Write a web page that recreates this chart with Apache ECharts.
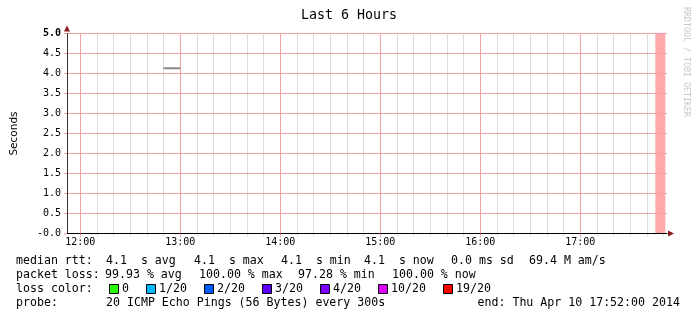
<!DOCTYPE html>
<html><head><meta charset="utf-8">
<script src="https://cdn.jsdelivr.net/npm/echarts@6/dist/echarts.min.js"></script>
<style>html,body{margin:0;padding:0;background:#fff}#c{width:697px;height:321px}</style>
</head><body><div id="c"></div>
<script>
// ---- data ----
const titleText = 'Last 6 Hours';
const yTitle = 'Seconds';
const xStart = 712, xEnd = 1072; // minutes since midnight (11:52 .. 17:52)
const hourTicks = [720, 780, 840, 900, 960, 1020];
const hourLabels = ['12:00', '13:00', '14:00', '15:00', '16:00', '17:00'];
const medianTimes = [770, 780];
const medianValues = [4.13, 4.13];
const lossTimes = [1065, 1071];
const lossValues = [5, 5];
const statsRow1 = ['median rtt:', '4.1  s avg', '4.1  s max', '4.1  s min', '4.1  s now', '0.0 ms sd', '69.4 M am/s'];
const statsRow2 = ['packet loss:', '99.93 % avg', '100.00 % max', '97.28 % min', '100.00 % now'];
const lossTitle = 'loss color:';
const lossLabels = ['0', '1/20', '2/20', '3/20', '4/20', '10/20', '19/20'];
const lossColors = ['#26ff00', '#00b8ff', '#0059ff', '#5e00ff', '#7e00ff', '#dd00ff', '#ff0000'];
const probeTitle = 'probe:';
const probeText = '20 ICMP Echo Pings (56 Bytes) every 300s';
const endText = 'end: Thu Apr 10 17:52:00 2014';
const watermark = 'RRDTOOL / TOBI OETIKER';

// ---- layout ----
const minorTicks = [];
for (let m = Math.ceil(xStart / 10) * 10; m <= xEnd; m += 10) {
  if (m % 60 !== 0) minorTicks.push(m);
}
const MONO = '"DejaVu Sans Mono", monospace';
const legendFont = '11.6px ' + MONO;
const row1X = [16, 106, 194, 281, 364, 451, 529];
const row2X = [16, 105, 199, 298, 392];
const rowY = [261, 275, 289, 303];

const graphics = [];
graphics.push({type: 'text', x: 349, y: 16, style: {text: titleText, font: '13.3px ' + MONO, fill: '#000', align: 'center', verticalAlign: 'middle'}});
graphics.push({type: 'text', x: 686, y: 62, rotation: -Math.PI / 2, style: {text: watermark, font: '8.3px ' + MONO, fill: '#c8c8c8', align: 'center', verticalAlign: 'middle'}});
statsRow1.forEach((t, i) => graphics.push({type: 'text', x: row1X[i], y: rowY[0], style: {text: t, font: legendFont, fill: '#000', verticalAlign: 'middle'}}));
statsRow2.forEach((t, i) => graphics.push({type: 'text', x: row2X[i], y: rowY[1], style: {text: t, font: legendFont, fill: '#000', verticalAlign: 'middle'}}));
graphics.push({type: 'text', x: 16, y: rowY[2], style: {text: lossTitle, font: legendFont, fill: '#000', verticalAlign: 'middle'}});
let bx = 109;
lossLabels.forEach((t, i) => {
  graphics.push({type: 'rect', shape: {x: bx + 0.5, y: rowY[2] - 4.5, width: 9, height: 9}, style: {fill: lossColors[i], stroke: '#000', lineWidth: 1}});
  graphics.push({type: 'text', x: bx + 13, y: rowY[2], style: {text: t, font: legendFont, fill: '#000', verticalAlign: 'middle'}});
  bx = bx + 13 + t.length * 7 + 17;
});
graphics.push({type: 'text', x: 16, y: rowY[3], style: {text: probeTitle, font: legendFont, fill: '#000', verticalAlign: 'middle'}});
graphics.push({type: 'text', x: 106, y: rowY[3], style: {text: probeText, font: legendFont, fill: '#000', verticalAlign: 'middle'}});
graphics.push({type: 'text', x: 477.5, y: rowY[3], style: {text: endText, font: legendFont, fill: '#000', verticalAlign: 'middle'}});

const PINK = '#f0a4a4';
const GREY = '#dcdcdc';
const ARROW = '#8b1a1a';
const plotBox = {left: 67, top: 33.5, width: 600, height: 200, containLabel: false, outerBoundsMode: 'none'};

const chart = echarts.init(document.getElementById('c'), null, {renderer: 'canvas'});
chart.setOption({
  animation: false,
  backgroundColor: '#fff',
  grid: [Object.assign({}, plotBox), Object.assign({}, plotBox)],
  xAxis: [
    {
      gridIndex: 0, type: 'value', min: xStart, max: xEnd, position: 'bottom', z: 4,
      axisLine: {show: true, onZero: false, lineStyle: {color: '#000', width: 1}},
      axisTick: {show: true, customValues: hourTicks, length: 4, lineStyle: {color: PINK}},
      axisLabel: {show: true, customValues: hourTicks, margin: 4,
        formatter: v => hourLabels[hourTicks.indexOf(Math.round(v))] || '',
        fontFamily: MONO, fontSize: 10, color: '#000'},
      splitLine: {show: true, lineStyle: {color: PINK, width: 1}}
    },
    {
      gridIndex: 1, type: 'value', min: xStart, max: xEnd, position: 'bottom', z: 1,
      axisLine: {show: false, onZero: false},
      axisTick: {show: true, customValues: minorTicks, length: 3, lineStyle: {color: GREY}},
      axisLabel: {show: false, customValues: minorTicks},
      splitLine: {show: true, lineStyle: {color: GREY, width: 1}}
    },
    {
      gridIndex: 1, type: 'value', min: xStart, max: xEnd, position: 'top', z: 2,
      axisLine: {show: false}, axisTick: {show: false}, axisLabel: {show: false}, splitLine: {show: false}
    }
  ],
  yAxis: [
    {
      gridIndex: 0, type: 'value', min: 0, max: 5, interval: 0.5, z: 4,
      name: yTitle, nameLocation: 'middle', nameRotate: 90, nameGap: 47,
      nameTextStyle: {fontFamily: '"DejaVu Sans", sans-serif', fontSize: 10.5, color: '#000'},
      axisLine: {show: true, onZero: false, lineStyle: {color: '#333', width: 1}},
      axisTick: {show: true, length: 3, lineStyle: {color: PINK}},
      axisLabel: {show: true, margin: 6, fontFamily: MONO, fontSize: 10, color: '#000',
        formatter: v => v === 0 ? '-0.0' : (v === 5 ? '{b|5.0}' : v.toFixed(1)),
        rich: {b: {fontFamily: MONO, fontSize: 10, fontWeight: 'bold', color: '#000'}}},
      splitLine: {show: true, lineStyle: {color: PINK, width: 1}}
    },
    {
      gridIndex: 1, type: 'value', min: 0, max: 5, interval: 0.5, position: 'left', z: 2,
      axisLine: {show: true, onZero: false, symbol: ['none', 'triangle'], symbolSize: [6, 6], symbolOffset: [0, 5], lineStyle: {color: ARROW, width: 0}},
      axisTick: {show: false}, axisLabel: {show: false}, splitLine: {show: false}
    }
  ],
  series: [
    {
      type: 'line', xAxisIndex: 0, yAxisIndex: 0, showSymbol: false, symbol: 'none',
      data: medianTimes.map((t, i) => [t, medianValues[i]]),
      lineStyle: {color: '#888', width: 2}, z: 5
    },
    {
      type: 'line', xAxisIndex: 0, yAxisIndex: 0, showSymbol: false, symbol: 'none',
      data: lossTimes.map((t, i) => [t, lossValues[i]]),
      lineStyle: {color: '#d9a6ee', width: 2},
      areaStyle: {color: '#ffaaaa', opacity: 1, origin: 'start'}, z: 3
    },
    {
      type: 'line', xAxisIndex: 1, yAxisIndex: 1, data: [], silent: true
    }
  ],
  graphic: graphics
});
// x-axis arrow head via an extra bottom axis in grid 1 drawn with the library's axis symbol
chart.setOption({
  xAxis: [{}, {}, {
    gridIndex: 1, position: 'bottom',
    axisLine: {show: true, onZero: false, symbol: ['none', 'triangle'], symbolSize: [6, 6], symbolOffset: [0, 4], lineStyle: {color: ARROW, width: 0}}
  }]
});
</script></body></html>
